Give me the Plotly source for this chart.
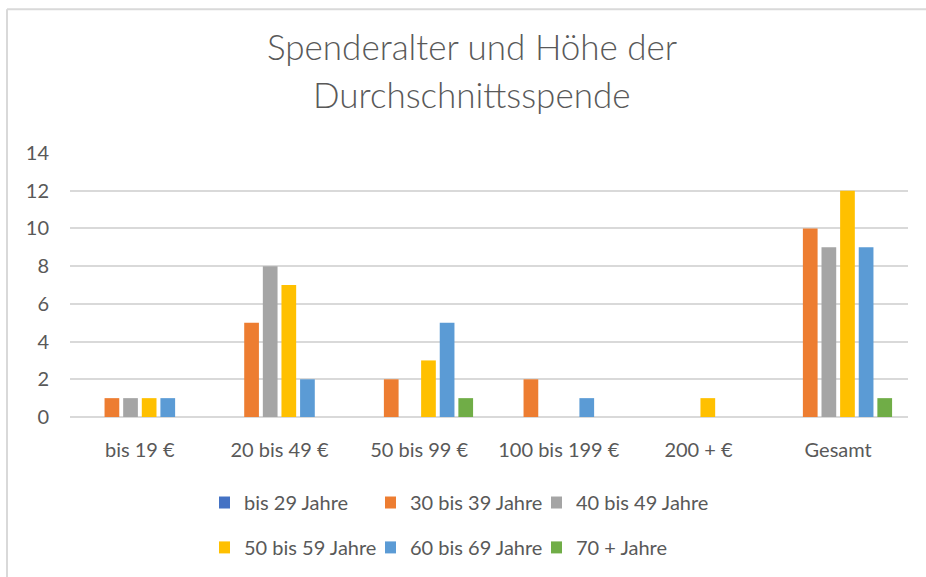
import plotly.graph_objects as go

categories = ["bis 19 €", "20 bis 49 €", "50 bis 99 €", "100 bis 199 €", "200 + €", "Gesamt"]
series_names = ["bis 29 Jahre", "30 bis 39 Jahre", "40 bis 49 Jahre",
                "50 bis 59 Jahre", "60 bis 69 Jahre", "70 + Jahre"]
bis_29 = [0, 0, 0, 0, 0, 0]
j30_39 = [1, 5, 2, 2, 0, 10]
j40_49 = [1, 8, 0, 0, 0, 9]
j50_59 = [1, 7, 3, 0, 1, 12]
j60_69 = [1, 2, 5, 1, 0, 9]
j70_plus = [0, 0, 1, 0, 0, 1]
series_values = [bis_29, j30_39, j40_49, j50_59, j60_69, j70_plus]
colors = ["#4472C4", "#ED7D31", "#A5A5A5", "#FFC000", "#5B9BD5", "#70AD47"]
y_ticks = [0, 2, 4, 6, 8, 10, 12, 14]

FONT = "Lato"
TXT = "#595959"

# plot area in pixels
L, R, T, B = 70, 18, 152.7, 158.7
W, H = 926, 577
pw, ph = W - L - R, H - T - B


def px_x(x):
    return (x - L) / pw


def px_y(y):
    return (H - B - y) / ph


fig = go.Figure()
legend_pos = [(219, 503), (385, 503), (551, 503), (219, 548), (385, 548), (551, 548)]
for i, (name, vals, col) in enumerate(zip(series_names, series_values, colors)):
    lg = "legend" if i == 0 else f"legend{i+1}"
    fig.add_trace(go.Bar(x=categories, y=vals, name=name, marker_color=col,
                         marker_line_width=0, legend=lg))

layout_legends = {}
for i, (lx, ly) in enumerate(legend_pos):
    key = "legend" if i == 0 else f"legend{i+1}"
    layout_legends[key] = dict(x=px_x(lx), y=px_y(ly), xanchor="left", yanchor="middle",
                               orientation="h", bgcolor="rgba(0,0,0,0)", indentation=-15,
                               font=dict(family=FONT, size=20, color=TXT),
                               itemclick=False, itemdoubleclick=False)

fig.update_layout(
    width=W, height=H,
    margin=dict(l=L, r=R, t=T, b=B),
    paper_bgcolor="white", plot_bgcolor="white",
    barmode="group", bargap=0.2, bargroupgap=0.21,
    showlegend=True,
    font=dict(family=FONT, color=TXT),
    xaxis=dict(type="category", showgrid=False, showline=False, ticks="",
               tickfont=dict(family=FONT, size=20, color=TXT), ticklabelstandoff=19),
    yaxis=dict(range=[0, 14], tickvals=y_ticks, showgrid=True, gridcolor="#D9D9D9",
               gridwidth=1.5, zeroline=True, zerolinecolor="#D9D9D9", zerolinewidth=1.5,
               showline=False, ticks="", tickfont=dict(family=FONT, size=20, color=TXT),
               ticklabelstandoff=20),
    annotations=[
        dict(text="Spenderalter und Höhe der", x=px_x(471.5), y=px_y(45), xref="paper", yref="paper",
             showarrow=False, xanchor="center", yanchor="middle",
             font=dict(family=FONT, size=35, color=TXT, weight=300)),
        dict(text="Durchschnittsspende", x=px_x(471.5), y=px_y(93), xref="paper", yref="paper",
             showarrow=False, xanchor="center", yanchor="middle",
             font=dict(family=FONT, size=35, color=TXT, weight=300)),
    ],
    shapes=[
        dict(type="line", xref="paper", yref="paper", x0=px_x(7), x1=px_x(7),
             y0=px_y(8), y1=px_y(590), line=dict(color="#D9D9D9", width=2)),
        dict(type="line", xref="paper", yref="paper", x0=px_x(7), x1=px_x(940),
             y0=px_y(8), y1=px_y(8), line=dict(color="#D9D9D9", width=2)),
    ],
    **layout_legends,
)

fig.write_html("out.html", config={"displayModeBar": False},
               post_script="document.body.style.margin='0px';document.body.style.overflow='hidden';")
